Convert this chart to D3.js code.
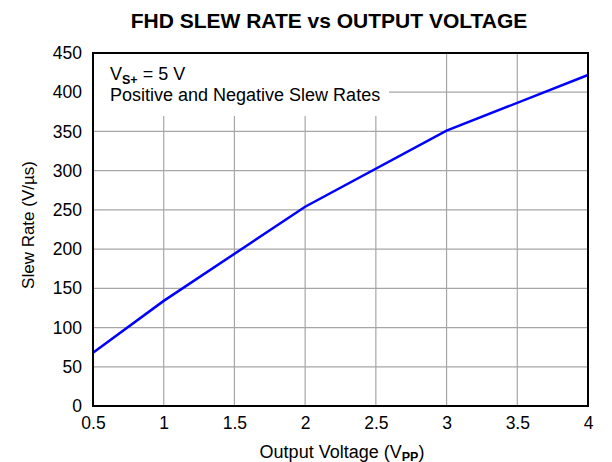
<!DOCTYPE html>
<html><head><meta charset="utf-8">
<script src="https://cdn.jsdelivr.net/npm/d3@7"></script>
<style>
body{margin:0;background:#fff}
text{font-family:Arial,"Liberation Sans",sans-serif;fill:#000}
</style>
</head><body>
<svg id="c" width="612" height="462"></svg>
<script>
// Data
const outputVoltage = [0.5, 1, 2, 3, 4];
const slewRate = [68, 134, 254, 351, 422];
const xTicks = [0.5, 1, 1.5, 2, 2.5, 3, 3.5, 4];
const yTicks = [0, 50, 100, 150, 200, 250, 300, 350, 400, 450];
const titleText = "FHD SLEW RATE vs OUTPUT VOLTAGE";

const W = 612, H = 462;
const m = {left: 93, right: 24, top: 53, bottom: 56};
const svg = d3.select("#c");
const x = d3.scaleLinear().domain([0.5, 4]).range([m.left, W - m.right]);
const y = d3.scaleLinear().domain([0, 450]).range([H - m.bottom, m.top]);

// gridlines
const grid = svg.append("g").attr("stroke", "#a6a6a6").attr("stroke-width", 1.2);
grid.selectAll("line.v").data(xTicks).join("line")
  .attr("x1", d => x(d)).attr("x2", d => x(d))
  .attr("y1", y(0)).attr("y2", y(450));
grid.selectAll("line.h").data(yTicks).join("line")
  .attr("x1", x(0.5)).attr("x2", x(4))
  .attr("y1", d => y(d)).attr("y2", d => y(d));

// white box behind annotation
svg.append("rect").attr("x", x(0.5)).attr("y", y(450))
  .attr("width", 296).attr("height", 63).attr("fill", "#fff");

// data line
svg.append("path")
  .datum(outputVoltage.map((v, i) => [v, slewRate[i]]))
  .attr("fill", "none").attr("stroke", "#0000ff").attr("stroke-width", 2.5)
  .attr("d", d3.line().x(d => x(d[0])).y(d => y(d[1])));

// frame
svg.append("rect").attr("x", x(0.5)).attr("y", y(450))
  .attr("width", x(4) - x(0.5)).attr("height", y(0) - y(450))
  .attr("fill", "none").attr("stroke", "#000").attr("stroke-width", 2);

// axes (labels only)
const fmt = d3.format("");
const xAxis = svg.append("g").attr("transform", `translate(0,${y(0)})`)
  .call(d3.axisBottom(x).tickValues(xTicks).tickFormat(fmt).tickSize(0).tickPadding(11));
const yAxis = svg.append("g").attr("transform", `translate(${x(0.5)},0)`)
  .call(d3.axisLeft(y).tickValues(yTicks).tickFormat(fmt).tickSize(0).tickPadding(11));
[xAxis, yAxis].forEach(a => {
  a.select(".domain").remove();
  a.selectAll("text").attr("font-size", 17.5).attr("font-family", "Arial, 'Liberation Sans', sans-serif").attr("fill", "#000");
});

// title
svg.append("text").attr("x", 329).attr("y", 28).attr("text-anchor", "middle")
  .attr("font-size", 21).attr("font-weight", "bold").text(titleText);

// annotation
const a1 = svg.append("text").attr("x", 110).attr("y", 80).attr("font-size", 18);
a1.append("tspan").text("V");
a1.append("tspan").attr("dy", 3.5).attr("font-size", 12.5).attr("font-weight", "bold").text("S+");
a1.append("tspan").attr("dy", -3.5).text(" = 5 V");
svg.append("text").attr("x", 110).attr("y", 101).attr("font-size", 18)
  .text("Positive and Negative Slew Rates");

// axis titles
const xt = svg.append("text").attr("x", 342).attr("y", 458).attr("text-anchor", "middle").attr("font-size", 18);
xt.append("tspan").text("Output Voltage (V");
xt.append("tspan").attr("dy", 2.5).attr("font-size", 12.5).attr("font-weight", "bold").text("PP");
xt.append("tspan").attr("dy", -2.5).text(")");

svg.append("text").attr("transform", "translate(34,225) rotate(-90)")
  .attr("text-anchor", "middle").attr("font-size", 17).text("Slew Rate (V/µs)");
</script>
</body></html>
